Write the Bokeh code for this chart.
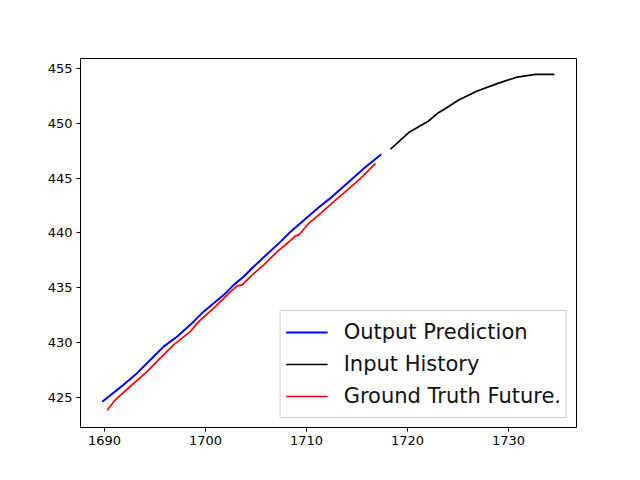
from bokeh.plotting import figure
from bokeh.models import Range1d, FixedTicker, Legend, LegendItem
from bokeh.embed import file_html
from bokeh.resources import INLINE

# Output Prediction (blue)
pred_x = [1689.77, 1691.91, 1693.07, 1694.72, 1695.87, 1697.20, 1698.84, 1699.83,
          1701.81, 1702.80, 1703.79, 1704.78, 1707.43, 1708.42, 1711.22, 1712.21,
          1714.03, 1715.67, 1717.40]
pred_y = [424.61, 426.18, 427.09, 428.61, 429.66, 430.57, 431.94, 432.85,
          434.36, 435.27, 436.03, 436.94, 439.21, 440.12, 442.34, 443.06,
          444.52, 445.88, 447.18]

# Input History (black)
hist_x = [1718.32, 1720.20, 1722.05, 1722.94, 1723.76, 1725.02, 1726.90, 1728.88,
          1730.86, 1732.67, 1734.55]
hist_y = [447.64, 449.21, 450.18, 450.88, 451.34, 452.09, 452.94, 453.61,
          454.21, 454.45, 454.45]

# Ground Truth Future (red)
gt_x = [1690.27, 1691.09, 1692.57, 1694.23, 1695.54, 1696.86, 1698.51, 1699.34,
        1700.82, 1702.48, 1703.14, 1703.63, 1704.62, 1705.77, 1707.10, 1708.09,
        1708.91, 1709.24, 1710.23, 1711.39, 1712.70, 1714.03, 1715.35, 1716.83]
gt_y = [423.85, 424.82, 426.03, 427.39, 428.61, 429.82, 431.03, 431.94,
        433.15, 434.66, 435.18, 435.27, 436.18, 437.09, 438.30, 439.06,
        439.73, 439.82, 440.88, 441.79, 442.85, 443.91, 444.97, 446.34]

x_ticks = [1690, 1700, 1710, 1720, 1730]
y_ticks = [425, 430, 435, 440, 445, 450, 455]

W, H = 632, 472
p = figure(width=W, height=H, output_backend="svg", toolbar_location=None,
           x_range=Range1d(1687.62, 1736.73), y_range=Range1d(422.27, 455.9),
           min_border_left=80, min_border_right=W - 80 - 496,
           min_border_top=58, min_border_bottom=H - 58 - 369)
p.xgrid.visible = False
p.ygrid.visible = False
p.outline_line_color = "black"
p.outline_line_width = 1
p.background_fill_color = "white"
p.border_fill_color = "white"

for ax in (p.xaxis, p.yaxis):
    ax.axis_line_color = None
    ax.major_tick_line_color = "black"
    ax.major_tick_out = 4
    ax.major_tick_in = 0
    ax.minor_tick_line_color = None
    ax.major_label_text_font = "DejaVu Sans"
    ax.major_label_text_font_size = "13px"
    ax.major_label_text_color = "black"
    ax.major_label_standoff = 4
p.xaxis.ticker = FixedTicker(ticks=x_ticks)
p.yaxis.ticker = FixedTicker(ticks=y_ticks)

r_pred = p.line(pred_x, pred_y, line_color="blue", line_width=2)
r_hist = p.line(hist_x, hist_y, line_color="black", line_width=1.7)
r_gt = p.line(gt_x, gt_y, line_color="red", line_width=1.7)

legend = Legend(items=[
    LegendItem(label="Output Prediction", renderers=[r_pred]),
    LegendItem(label="Input History", renderers=[r_hist]),
    LegendItem(label="Ground Truth Future.", renderers=[r_gt]),
], location="bottom_right")
legend.label_text_font = "DejaVu Sans"
legend.label_text_font_size = "21px"
legend.label_text_color = "#111111"
legend.label_height = 32
legend.glyph_height = 32
legend.glyph_width = 42
legend.label_standoff = 16
legend.spacing = 0
legend.padding = 5
legend.margin = 9
legend.border_line_color = "#cccccc"
legend.border_line_alpha = 0.9
legend.background_fill_color = "white"
legend.background_fill_alpha = 0.85
p.add_layout(legend)

open("out.html", "w").write(file_html(p, INLINE))
